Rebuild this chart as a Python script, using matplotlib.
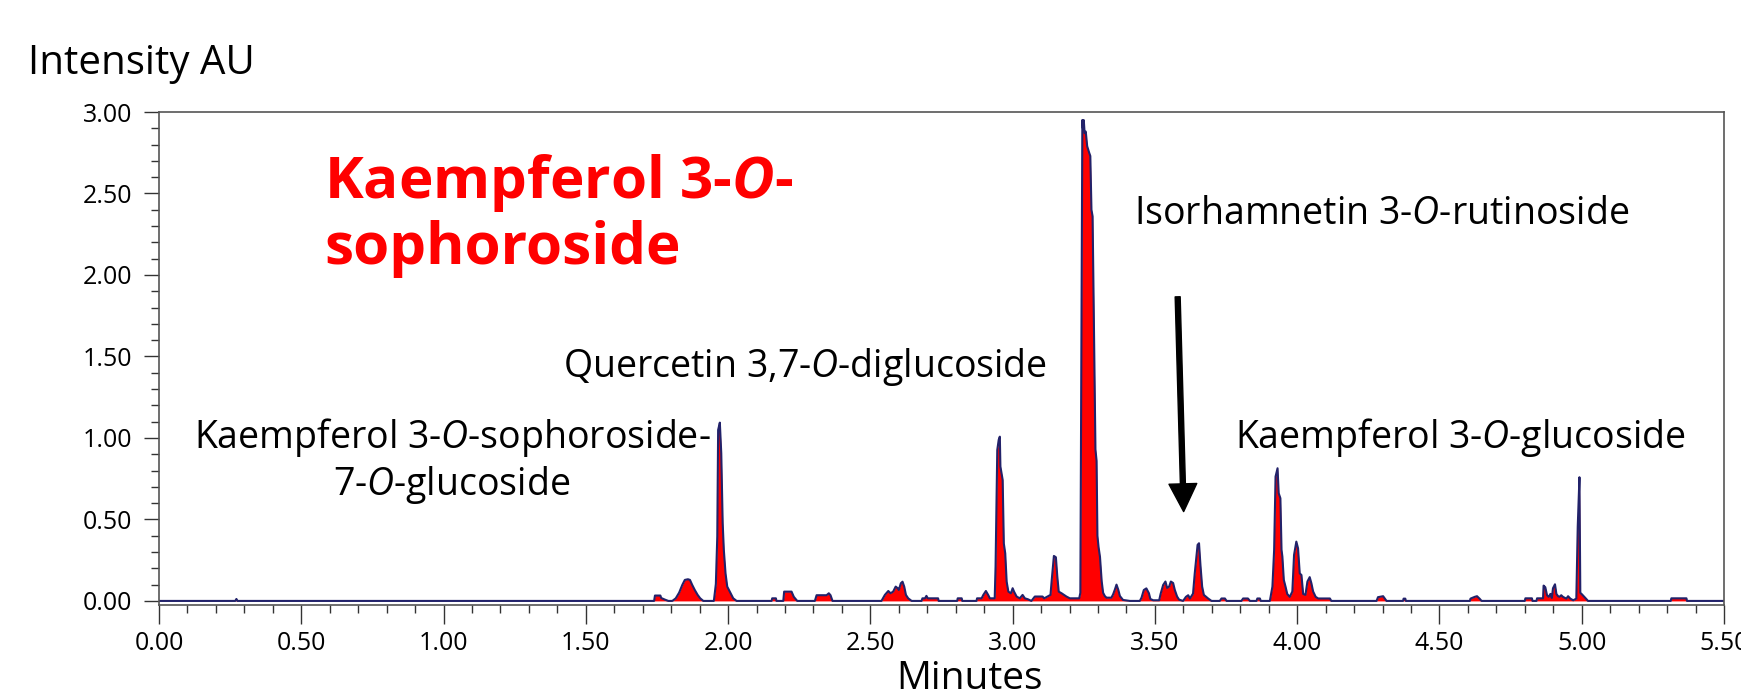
import matplotlib
matplotlib.use("Agg")
import matplotlib.pyplot as plt
from matplotlib.ticker import MultipleLocator, FormatStrFormatter

# ---------------- data ----------------
times = [
    0.000, 0.268, 0.272, 0.276, 1.740, 1.743, 1.762, 1.765, 1.778, 1.790,
    1.804, 1.816, 1.828, 1.839, 1.848, 1.859, 1.866, 1.874, 1.883, 1.893,
    1.902, 1.913, 1.950, 1.957, 1.962, 1.965, 1.971, 1.976, 1.981, 1.985,
    1.991, 1.997, 2.006, 2.018, 2.030, 2.153, 2.155, 2.168, 2.170, 2.194,
    2.197, 2.223, 2.231, 2.243, 2.305, 2.311, 2.346, 2.354, 2.360, 2.367,
    2.539, 2.551, 2.563, 2.571, 2.580, 2.589, 2.596, 2.600, 2.607, 2.613,
    2.619, 2.625, 2.633, 2.645, 2.680, 2.683, 2.692, 2.697, 2.702, 2.738,
    2.740, 2.805, 2.807, 2.821, 2.823, 2.873, 2.875, 2.891, 2.897, 2.906,
    2.914, 2.920, 2.937, 2.940, 2.946, 2.951, 2.955, 2.957, 2.965, 2.969,
    2.974, 2.979, 2.985, 2.994, 3.000, 3.005, 3.014, 3.025, 3.035, 3.043,
    3.054, 3.066, 3.078, 3.105, 3.111, 3.133, 3.138, 3.145, 3.152, 3.157,
    3.162, 3.172, 3.189, 3.201, 3.234, 3.238, 3.245, 3.247, 3.250, 3.253,
    3.257, 3.262, 3.269, 3.273, 3.277, 3.281, 3.286, 3.291, 3.295, 3.298,
    3.302, 3.307, 3.313, 3.318, 3.324, 3.330, 3.347, 3.353, 3.359, 3.365,
    3.371, 3.377, 3.388, 3.412, 3.447, 3.453, 3.461, 3.470, 3.479, 3.484,
    3.494, 3.515, 3.520, 3.529, 3.537, 3.543, 3.550, 3.556, 3.564, 3.570,
    3.578, 3.585, 3.599, 3.609, 3.617, 3.623, 3.634, 3.640, 3.650, 3.655,
    3.660, 3.666, 3.672, 3.687, 3.699, 3.728, 3.734, 3.746, 3.752, 3.804,
    3.810, 3.827, 3.834, 3.857, 3.860, 3.869, 3.872, 3.904, 3.913, 3.919,
    3.924, 3.931, 3.935, 3.941, 3.945, 3.948, 3.953, 3.959, 3.965, 3.974,
    3.983, 3.989, 3.997, 4.003, 4.009, 4.015, 4.021, 4.029, 4.036, 4.044,
    4.050, 4.056, 4.065, 4.074, 4.115, 4.120, 4.279, 4.284, 4.302, 4.308,
    4.314, 4.372, 4.374, 4.380, 4.382, 4.607, 4.609, 4.624, 4.632, 4.641,
    4.648, 4.800, 4.802, 4.825, 4.827, 4.841, 4.843, 4.864, 4.866, 4.872,
    4.878, 4.884, 4.890, 4.895, 4.899, 4.906, 4.911, 4.917, 4.922, 4.928,
    4.934, 4.946, 4.952, 4.960, 4.970, 4.981, 4.986, 4.992, 4.995, 5.001,
    5.007, 5.016, 5.022, 5.313, 5.315, 5.368, 5.370, 5.500,
]
intensity = [
    0.000, 0.000, 0.012, 0.000, 0.000, 0.033, 0.033, 0.018, 0.008, 0.000,
    0.000, 0.016, 0.051, 0.098, 0.129, 0.133, 0.129, 0.098, 0.067, 0.037,
    0.016, 0.000, 0.000, 0.104, 0.395, 1.049, 1.094, 0.906, 0.477, 0.313,
    0.169, 0.088, 0.057, 0.016, 0.000, 0.000, 0.016, 0.016, 0.000, 0.000,
    0.057, 0.057, 0.025, 0.000, 0.000, 0.035, 0.035, 0.047, 0.035, 0.000,
    0.000, 0.037, 0.061, 0.047, 0.057, 0.088, 0.078, 0.067, 0.108, 0.118,
    0.088, 0.037, 0.016, 0.000, 0.000, 0.016, 0.016, 0.031, 0.016, 0.016,
    0.000, 0.000, 0.016, 0.016, 0.000, 0.000, 0.016, 0.016, 0.037, 0.061,
    0.037, 0.016, 0.016, 0.210, 0.926, 0.988, 1.008, 0.825, 0.742, 0.353,
    0.292, 0.118, 0.057, 0.047, 0.078, 0.057, 0.027, 0.016, 0.037, 0.016,
    0.010, 0.000, 0.027, 0.027, 0.016, 0.037, 0.140, 0.276, 0.268, 0.149,
    0.057, 0.047, 0.027, 0.016, 0.016, 0.050, 2.951, 2.900, 2.950, 2.870,
    2.880, 2.790, 2.750, 2.730, 2.400, 2.360, 1.640, 0.930, 0.860, 0.400,
    0.330, 0.270, 0.120, 0.050, 0.030, 0.020, 0.020, 0.040, 0.068, 0.100,
    0.070, 0.030, 0.006, 0.000, 0.000, 0.020, 0.067, 0.077, 0.047, 0.012,
    0.004, 0.004, 0.043, 0.098, 0.119, 0.080, 0.088, 0.119, 0.110, 0.067,
    0.027, 0.008, 0.000, 0.025, 0.035, 0.015, 0.045, 0.169, 0.344, 0.354,
    0.221, 0.088, 0.037, 0.015, 0.000, 0.000, 0.015, 0.015, 0.000, 0.000,
    0.015, 0.015, 0.000, 0.000, 0.015, 0.015, 0.000, 0.000, 0.088, 0.313,
    0.763, 0.814, 0.661, 0.630, 0.313, 0.272, 0.129, 0.088, 0.043, 0.025,
    0.058, 0.282, 0.364, 0.323, 0.169, 0.159, 0.043, 0.037, 0.119, 0.146,
    0.108, 0.058, 0.025, 0.015, 0.015, 0.000, 0.000, 0.023, 0.029, 0.015,
    0.000, 0.000, 0.014, 0.014, 0.000, 0.000, 0.014, 0.025, 0.029, 0.014,
    0.000, 0.000, 0.016, 0.016, 0.000, 0.000, 0.016, 0.016, 0.094, 0.084,
    0.035, 0.025, 0.043, 0.018, 0.078, 0.102, 0.043, 0.029, 0.025, 0.035,
    0.025, 0.014, 0.029, 0.014, 0.004, 0.014, 0.456, 0.759, 0.050, 0.040,
    0.029, 0.012, 0.000, 0.000, 0.016, 0.016, 0.000, 0.000,
]

peak_labels = [
    "Kaempferol 3-$\\mathit{O}$-sophoroside-",
    "7-$\\mathit{O}$-glucoside",
    "Quercetin 3,7-$\\mathit{O}$-diglucoside",
    "Isorhamnetin 3-$\\mathit{O}$-rutinoside",
    "Kaempferol 3-$\\mathit{O}$-glucoside",
]
title_lines = ["Kaempferol 3-$\\mathbfit{O}$-", "sophoroside"]
y_title = "Intensity AU"
x_title = "Minutes"

# ---------------- styling ----------------
FONT = "Open Sans"
plt.rcParams["font.family"] = [FONT, "DejaVu Sans"]
plt.rcParams["mathtext.fontset"] = "custom"
plt.rcParams["mathtext.rm"] = FONT
plt.rcParams["mathtext.it"] = FONT + ":italic"
plt.rcParams["mathtext.bf"] = FONT + ":bold"
plt.rcParams["mathtext.bfit"] = FONT + ":italic:bold"

W, H = 1741, 699
fig = plt.figure(figsize=(W / 100, H / 100), dpi=100)
fig.patch.set_facecolor("white")


def fx(px):
    return px / W


def fy(py):
    return 1 - py / H


ax = fig.add_axes([fx(159), fy(605), (1724 - 159) / W, (605 - 112) / H])
ax.set_xlim(0, 5.5)
ax.set_ylim(-0.025, 3.0)

ax.fill_between(times, intensity, 0, color="#ff0000", lw=0)
ax.plot(times, intensity, color="#22226a", lw=1.5)

ax.xaxis.set_major_locator(MultipleLocator(0.5))
ax.xaxis.set_minor_locator(MultipleLocator(0.1))
ax.yaxis.set_major_locator(MultipleLocator(0.5))
ax.yaxis.set_minor_locator(MultipleLocator(0.1))
ax.xaxis.set_major_formatter(FormatStrFormatter("%.2f"))
ax.yaxis.set_major_formatter(FormatStrFormatter("%.2f"))

ax.tick_params(axis="x", which="major", direction="out", length=13.5, width=1,
               color="#333333", labelsize=18, pad=5)
ax.tick_params(axis="x", which="minor", direction="out", length=6, width=1,
               color="#333333")
ax.tick_params(axis="y", which="major", direction="out", length=11, width=1,
               color="#333333", labelsize=18, pad=8)
ax.tick_params(axis="y", which="minor", direction="out", length=6, width=1,
               color="#333333")
for s in ax.spines.values():
    s.set_color("#555555")
    s.set_linewidth(1.2)

# axis titles
fig.text(fx(28), fy(74), y_title, fontsize=29, ha="left", va="baseline")
fig.text(fx(969), fy(689), x_title, fontsize=28, ha="center", va="baseline")

# peak labels
fig.text(fx(452), fy(448), peak_labels[0], fontsize=27, ha="center", va="baseline")
fig.text(fx(452), fy(495), peak_labels[1], fontsize=27, ha="center", va="baseline")
fig.text(fx(805), fy(377), peak_labels[2], fontsize=27, ha="center", va="baseline")
fig.text(fx(1382), fy(224), peak_labels[3], fontsize=27, ha="center", va="baseline")
fig.text(fx(1460), fy(448), peak_labels[4], fontsize=27, ha="center", va="baseline")

# red title
fig.text(fx(324), fy(198), title_lines[0], fontsize=42, fontweight="bold",
         color="#ff0000", ha="left", va="baseline")
fig.text(fx(324), fy(264), title_lines[1], fontsize=42, fontweight="bold",
         color="#ff0000", ha="left", va="baseline")

# arrow
ax.annotate("", xy=(3.601, 0.548), xytext=(3.580, 1.866),
            arrowprops=dict(facecolor="black", edgecolor="black", width=3.6,
                            headwidth=20, headlength=20, shrink=0))

fig.savefig("out.png", dpi=100, facecolor="white")
